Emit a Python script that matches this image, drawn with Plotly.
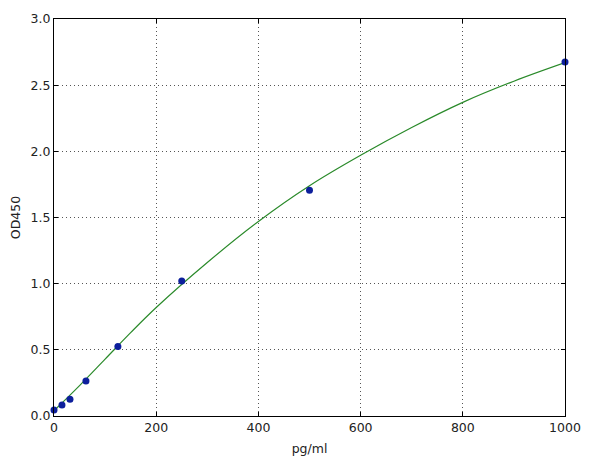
import plotly.graph_objects as go

# standard points (pg/ml vs OD450)
conc = [0, 15.6, 31.25, 62.5, 125, 250, 500, 1000]
od = [0.045, 0.083, 0.126, 0.265, 0.525, 1.02, 1.705, 2.675]

# fitted curve
fit_x = [0, 50, 100, 150, 200, 300, 400, 500, 600, 700, 800, 900, 1000]
fit_y = [0.04, 0.23, 0.43, 0.63, 0.82, 1.16, 1.47, 1.74, 1.97, 2.18, 2.37, 2.53, 2.67]

x_ticks = [0, 200, 400, 600, 800, 1000]
y_ticks = [0.0, 0.5, 1.0, 1.5, 2.0, 2.5, 3.0]

fig = go.Figure()
fig.add_trace(go.Scatter(x=fit_x, y=fit_y, mode="lines", line=dict(color="#2a8a2a", width=1.2, shape="spline"),
                         showlegend=False))
fig.add_trace(go.Scatter(x=conc, y=od, mode="markers", marker=dict(color="#0d1f9c", size=7),
                         showlegend=False, cliponaxis=False))

axis_style = dict(showline=True, linecolor="black", linewidth=1, mirror="ticks",
                  ticks="inside", ticklen=4, tickcolor="black", automargin=False,
                  showgrid=True, gridcolor="#555555", griddash="1px,3px", gridwidth=1,
                  zeroline=False, tickfont=dict(size=12.5, color="#222222"))

fig.update_xaxes(range=[0, 1000], tickvals=x_ticks, ticktext=[str(v) for v in x_ticks],
                 title=dict(text="pg/ml", standoff=10, font=dict(size=12.5)), **axis_style)
fig.update_yaxes(range=[0, 3], tickvals=y_ticks, ticktext=["%.1f" % v for v in y_ticks],
                 title=dict(text="OD450", standoff=10, font=dict(size=12.5)), **axis_style)

# page body adds ~8px offset, so margins compensate
fig.update_layout(width=595, height=463, margin=dict(l=46, r=38, t=11, b=55),
                  plot_bgcolor="white", paper_bgcolor="white",
                  font=dict(family="DejaVu Sans", color="#222222"))

fig.write_html("out.html")
